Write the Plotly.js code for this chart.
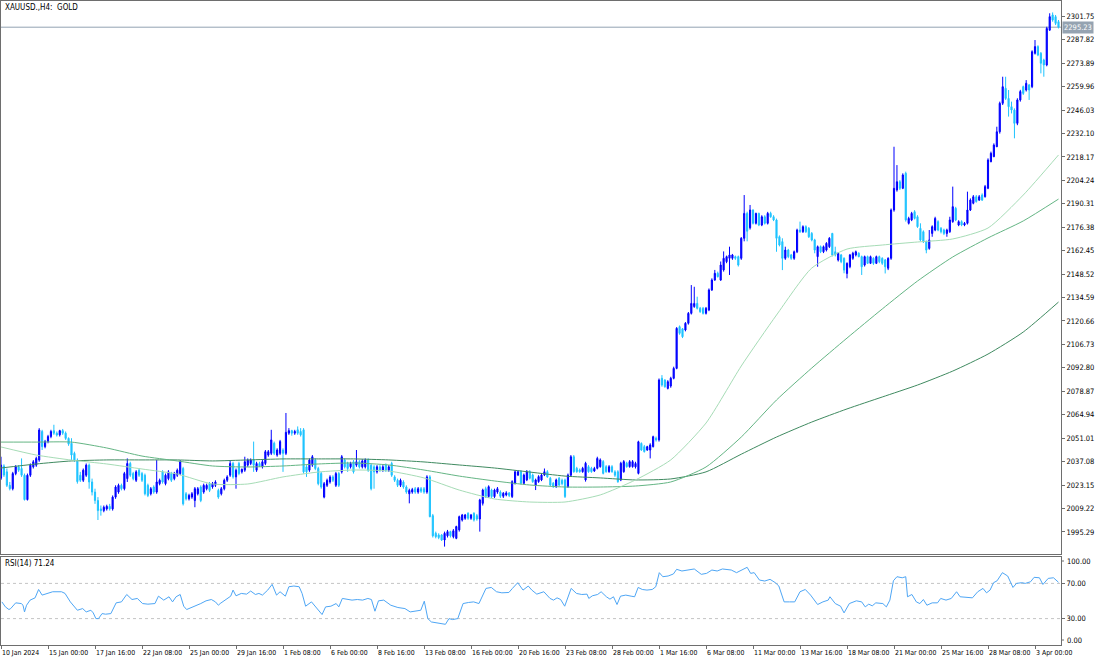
<!DOCTYPE html>
<html><head><meta charset="utf-8">
<script src="https://cdn.plot.ly/plotly-3.0.1.min.js"></script>
<style>html,body{margin:0;padding:0;background:#fff}#chart{width:1100px;height:660px}</style>
</head><body><div id="chart"></div>
<script>
const symbolTitle = "XAUUSD.,H4:\u00a0 GOLD";
const rsiTitle = "RSI(14) 71.24";
const lastPrice = 2295.23;
const timeLabels = ["10 Jan 2024","15 Jan 00:00","17 Jan 16:00","22 Jan 08:00","25 Jan 00:00","29 Jan 16:00","1 Feb 08:00","6 Feb 00:00","8 Feb 16:00","13 Feb 08:00","16 Feb 00:00","20 Feb 16:00","23 Feb 08:00","28 Feb 00:00","1 Mar 16:00","6 Mar 08:00","11 Mar 00:00","13 Mar 16:00","18 Mar 08:00","21 Mar 00:00","25 Mar 16:00","28 Mar 08:00","3 Apr 00:00"];
const timeTickBars = [0,16,32,48,64,80,96,112,128,144,160,176,192,208,224,240,256,272,288,304,320,336,352];
const priceTicks = [1995.29,2009.22,2023.15,2037.08,2051.01,2064.94,2078.87,2092.80,2106.73,2120.66,2134.59,2148.52,2162.45,2176.38,2190.31,2204.24,2218.17,2232.10,2246.03,2259.96,2273.89,2287.82,2301.75];
const rsiLevels = [30,70];
const rsiEdgeLabels = ["100.00","0.00"];

const open = [
2027.2,2034.5,2031,2023,2021,2030,2034,2033,2029,2014.5,
2029,2034,2035,2038,2055,2046,2049,2052,2055.5,2054,
2053,2055.5,2054,2050.9,2048,2042,2038,2029,2026,2029,
2035,2025,2019,2014,2009,2008,2009,2010.5,2009,2016,
2019,2023,2021,2027,2036,2030,2026,2032,2030,2029,
2023,2018,2022,2019,2024,2031,2024,2027,2030,2027,
2029,2030,2033,2018,2015,2016,2014,2018,2022,2019,
2021,2024,2022,2023,2020,2018,2021,2026,2029,2036,
2028,2036,2031,2032,2035,2036,2038,2032,2036,2034,
2036,2041,2042,2048,2041,2042,2044,2042,2054,2055.5,
2054,2056,2055,2056,2034,2032,2035,2038,2033,2030,
2016,2023,2025,2028,2023,2030,2031,2038,2036,2034,
2037,2035,2037,2034,2034,2038,2035,2034,2031,2034,
2032,2035,2032,2036,2028,2026,2023,2025,2022,2018,
2019,2021,2019,2021,2021,2019,2028,2005,1994.5,1993.5,
1993.5,1990.5,1993,1995.5,1992.5,1991.5,1996.5,2002.4,2003.4,2006.4,
2003.4,2006.4,2005,2003,2012.3,2021,2016.3,2020.2,2016.3,2019,
2019,2016.5,2017.3,2018.5,2016.3,2024.2,2029.1,2031.1,2024.2,2026.2,
2031.1,2029.1,2023.2,2025.2,2026.2,2029.1,2031.1,2027.2,2024.2,2022.2,
2027.2,2026,2026.2,2022.2,2029,2040,2033.1,2032.1,2031.1,2026.2,
2034.1,2033.1,2031.5,2033.1,2034.1,2037.1,2034.1,2031.1,2034.1,2031,
2031.1,2026.2,2031.1,2036.1,2034.1,2034.1,2034,2030.1,2047.9,2046,
2044,2044,2046,2051,2050,2086.6,2085.6,2080.6,2082,2086.6,
2092.5,2117.3,2116,2115.3,2119.3,2125.2,2129.2,2131.1,2128.2,2128.2,
2125.2,2127.2,2139.1,2145,2149,2145,2151,2155.9,2157.9,2157.9,
2158.9,2158.9,2157.9,2169.8,2184.6,2176,2186.6,2178.7,2184.6,2177.7,
2182.6,2178.7,2184.6,2182.6,2180.7,2170.7,2167.8,2157.9,2162.8,2159.9,
2157.9,2161.8,2174.7,2173.7,2176.7,2175.7,2172.7,2168.8,2158.9,2164.8,
2161.8,2162.8,2164.8,2172.7,2161.8,2156.9,2159.9,2157.9,2148.9,2152.9,
2157.9,2159.9,2160.9,2158.9,2153.9,2158.9,2154.9,2157.9,2154.9,2158.9,
2157.9,2156.9,2152,2157.9,2186.6,2198.5,2203.4,2199.5,2208.4,2178.7,
2180.7,2185.6,2182.6,2175.7,2173.7,2167.8,2163.8,2172.7,2174.7,2179.7,
2175.7,2174.7,2172.7,2173.7,2179.7,2187.6,2177.7,2179.7,2177.7,2178.7,
2186.6,2190.6,2194.5,2192.5,2195.5,2194.5,2199.5,2215.3,2218.3,2224.2,
2233.1,2250,2258.9,2252.9,2248,2246,2238.1,2252,2259.9,2257.9,
2260.9,2259.9,2279.7,2283.7,2279.7,2275.7,2272.8,2293.5,2302.5,2301.5,2298.5];
const high = [
2040,2035.5,2033,2025,2031,2035,2035,2039,2030,2030,
2036,2038,2040,2057,2056,2050,2053,2056,2059,2055,
2056,2056.5,2055,2051.5,2051,2043,2039,2031,2033,2036,
2036,2027,2021,2016,2011,2011,2011.5,2012,2017,2023,
2024,2024,2031,2039,2037,2031,2032,2033,2031,2030,
2024,2022,2023,2038,2027,2032,2030,2032,2031,2031,
2033,2038,2034,2019,2018,2019,2022,2022,2023,2024,
2024,2025,2025,2026,2021,2022,2027,2029,2038,2037,
2033,2037,2033,2040,2039,2039,2049,2037,2037,2038,
2044,2044,2056,2049,2045,2050,2045,2066,2057,2056,
2056,2058,2057,2057,2035,2039,2041,2039,2034,2031,
2025,2027,2029,2029,2031,2031,2041,2039,2037,2037,
2038,2044,2038,2038.5,2039,2039,2036,2035,2035,2035,
2035,2036,2035,2037,2029,2027,2027,2026,2023,2021,
2021.5,2022,2022,2022,2022,2029,2029,2006,1995.5,1994.5,
1994,1995.5,1996.5,1996,1997,1999,2005,2006,2006,2007,
2006,2007,2006,2015,2021,2022.2,2023,2021,2021,2022,
2020,2019,2019.5,2019,2026,2032,2032,2032,2030,2032.1,
2032,2030,2027,2029,2030,2033,2032,2028,2025,2027,
2028,2027,2027,2030,2041,2041,2034,2033,2034,2037,
2035,2034,2034,2040,2039,2038,2035,2035,2035,2032,
2032,2037,2038,2037,2038,2038,2037,2049.5,2048.5,2047,
2046.5,2048,2052.5,2052,2086.5,2088.5,2086,2085.5,2087.5,2093.5,
2117,2118,2116.5,2120,2126,2142,2141,2135.1,2129,2129,
2129,2140,2146,2151,2150,2156,2162,2159.5,2164.8,2160.5,
2159.5,2159.5,2170.5,2195.5,2185.6,2189.6,2187,2185,2185,2183.5,
2183.5,2185.5,2185.6,2183.5,2181.5,2171.5,2169.8,2164.8,2163.5,2160.5,
2162.5,2175.5,2179.7,2177.5,2177.5,2176.5,2173.5,2169.5,2165.5,2165.5,
2165.5,2167.5,2170.5,2173,2164.8,2161.5,2160.5,2158.5,2155.5,2160.5,
2161.8,2162.5,2161.5,2159.5,2159.5,2159.5,2159.5,2158.5,2159.5,2159.5,
2158.5,2157.5,2158.5,2187.5,2224.2,2213.3,2204.4,2208.4,2209.4,2182.6,
2185.5,2186.5,2183.5,2178.7,2174.5,2168.5,2174.7,2177.5,2182.6,2180.5,
2176.5,2175.5,2175.5,2182.6,2200.5,2188.5,2180.5,2180.5,2179.5,2197.5,
2193.5,2195.5,2195.5,2195.5,2196.5,2201.5,2217.3,2221.3,2226.2,2236.1,
2251,2265.8,2265.8,2257.9,2251,2247,2253,2258,2260.5,2263.8,
2261.5,2281.5,2287.6,2284.5,2280.5,2276.5,2295.5,2303.5,2304,2302.5,2299.5];
const low = [
2026.2,2028,2022,2020,2020,2029,2031,2028,2014,2014,
2028,2033,2034,2037,2044,2045,2048,2051,2053,2052,
2052,2053,2050,2046.5,2038,2037,2024,2025,2025,2028,
2021,2017,2012,2002.4,2005,2007,2008,2008,2008,2015,
2018,2020,2020,2025,2028,2026,2025,2028,2025,2017,
2016,2017,2018,2018,2023,2024,2023,2026,2025,2026,
2028,2029,2011,2014,2014,2015,2010,2017,2013,2018,
2020,2019,2021,2022,2015,2017,2020,2025,2028,2027,
2021,2029,2030,2031,2034,2035,2031,2031,2034,2033,
2035,2040,2041,2041,2040,2041,2031,2041,2053,2052.5,
2053,2053,2052,2030,2028,2031,2034,2032,2023,2021,
2015.3,2022,2024,2025,2022,2022,2030,2033,2031,2033,
2030,2034,2033,2033,2033,2031,2020,2021,2030,2031,
2031,2031,2031,2028,2025,2022,2022,2021,2018,2012.3,
2018,2018,2018,2018.5,2018,2018,2004,1992,1991.5,1991,
1990,1986.6,1992,1992,1991.5,1991,1995.5,2001.5,2002.5,2002.5,
2002.5,2001.5,2002,1995.5,2011,2015.5,2015.5,2015.5,2015.5,2018,
2015.5,2015.5,2016.5,2016,2015.5,2023.5,2028.5,2023.5,2023.5,2025.5,
2026.5,2024.5,2020.2,2024.5,2025.5,2028.5,2027.5,2022.5,2021.5,2021.5,
2022.5,2023,2015.5,2021.5,2028,2030.5,2030.5,2030.5,2030.5,2025.2,
2030.5,2030.5,2031,2032.5,2033.5,2029.5,2030.5,2030.5,2030.5,2028,
2024.5,2025.5,2030.5,2033.5,2033.5,2033.5,2033,2029.5,2043.5,2042.5,
2043.5,2039,2045.5,2049,2049,2081.6,2081,2080,2081,2086,
2092,2112.5,2110.5,2114.5,2118.5,2124.5,2128.5,2127.5,2125.5,2124.5,
2124.5,2126.5,2138.5,2144.5,2146.5,2144.5,2150,2155,2148,2157,
2157,2153,2157,2168,2168,2175,2178,2178,2177,2177,
2178,2178,2182,2180,2161.8,2165,2150.9,2157,2158,2157,
2157,2161,2173,2173,2173,2170,2168,2160.9,2152.9,2161,
2161,2162,2164,2159,2159,2156,2155,2149,2146,2152,
2157,2159,2158.5,2148,2153,2154.5,2154.5,2154,2154.5,2155,
2154,2148.9,2150.9,2157,2185.6,2197.5,2198.5,2199,2179.7,2178,
2180,2181,2176,2168,2167,2160.9,2163,2170.7,2174,2174,
2172.7,2171.7,2170.7,2173,2179,2180,2177,2177,2177,2178,
2186,2190,2191,2192,2192,2194,2199,2215,2218,2224,
2232,2249,2252,2242.1,2244,2229.2,2237,2251,2255,2257,
2252,2259,2279,2278,2267.8,2265.8,2272,2293,2298.5,2296.5,2294.5];
const close = [
2035.1,2029.1,2023,2021,2030,2034,2032,2029,2014.5,2029,
2035,2037,2039,2055.9,2046,2049,2052,2055,2054,2052.9,
2055.5,2054,2050.9,2047.5,2041,2038,2025.2,2026,2032,2035,
2025,2019,2014,2008,2008,2010,2010.5,2009,2016,2022,
2023,2021,2030,2036,2029,2027,2031,2029,2026,2018,
2017,2021,2019,2025,2026,2025,2029,2031,2026,2030,
2032,2037,2012,2015,2017,2018,2021,2021,2014,2023,
2023,2020,2024,2025,2016,2021,2026,2028,2036,2028,
2032,2030,2032.5,2037,2038,2038,2035,2036,2034.5,2037,
2043,2043,2050,2042,2044,2049,2042,2054.5,2055.5,2054,
2055,2054,2053,2031,2031,2038,2040,2033,2024,2022,
2024,2026,2028,2026,2030,2023,2040,2034,2033,2036,
2031,2037,2034,2037.5,2038,2032,2021,2031,2034,2032,
2034,2032,2034,2029,2026,2023,2026,2022,2019,2020,
2020.5,2019,2021,2019.5,2019,2028,2004.4,1993,1992.5,1992,
1990.5,1994.5,1995.5,1993,1996,1998.5,2004.4,2005.4,2005.4,2003.4,
2005.4,2002.4,2003,2014.3,2020.2,2016.3,2022.2,2016.3,2020.2,2021,
2016.5,2018.3,2018.5,2017,2025.2,2031,2031.1,2024.2,2029.1,2031,
2027.2,2025.2,2026.2,2028.2,2029.1,2031.1,2028,2023.2,2022.2,2026.2,
2023.2,2024,2016.3,2029.1,2040,2031.1,2031.1,2031.1,2033.1,2036.1,
2031.1,2031.1,2033,2039,2038.1,2030.1,2031.1,2034.1,2031.1,2029,
2025.2,2036.1,2037.1,2034.1,2037.1,2037.1,2036,2048.9,2044,2043,
2046,2047,2051.9,2050,2085.6,2082.6,2081.6,2084.6,2086.6,2092.5,
2116.3,2113.3,2111.3,2119.3,2125.2,2131.1,2131.1,2128.2,2126.2,2125.2,
2128.2,2139.1,2145,2149,2147,2153.9,2157.9,2158.9,2159.9,2159.9,
2157.9,2153.9,2169.8,2184.6,2174,2186.6,2178.7,2184.6,2177.7,2182.6,
2178.7,2184.6,2182.6,2180.7,2169.8,2165.8,2157.9,2162.8,2158.9,2157.9,
2161.8,2174.7,2173.7,2176.7,2173.7,2170.7,2168.8,2162.8,2164.8,2161.8,
2164.8,2166.8,2169.8,2159.9,2159.9,2160.9,2155.9,2150.9,2154.9,2159.9,
2160.9,2161.8,2158.9,2152.9,2158.9,2154.9,2158.9,2154.9,2158.9,2155.9,
2154.9,2152.9,2157.9,2186.6,2199.5,2203.4,2199.5,2207.4,2180.7,2181.6,
2184.6,2181.6,2176.7,2168.8,2167.8,2162.8,2168.8,2176.7,2181.6,2174.7,
2173.7,2172.7,2174.7,2180.7,2188.6,2180.7,2179.7,2177.7,2178.7,2186.6,
2192.5,2194.5,2191.6,2194.5,2192.5,2200.5,2216.3,2220.3,2225.2,2233.1,
2250,2259.9,2252.9,2248,2246,2238.1,2252,2257,2255.9,2261.9,
2257.9,2280.7,2283.7,2278.7,2273.8,2272.8,2294.5,2301.5,2299.5,2297.5,2295.23];

// moving averages read at every 12th bar
const maBars = [0,12,24,36,48,60,72,84,96,108,120,132,144,156,168,180,192,204,216,228,240,252,264,276,288,300,312,324,336,348,360];
const maFast = [2045.8,2041.0,2038.0,2035.7,2032.7,2029.7,2023.8,2023.8,2028.0,2030.9,2032.1,2031.5,2027.4,2020.2,2014.9,2013.1,2013.1,2017.3,2026.2,2038.1,2060.0,2093.9,2124.2,2152.1,2163.4,2165.8,2167.6,2169.4,2175.9,2195.5,2219.3];
const maMid = [2048.7,2048.7,2048.7,2045.2,2040.4,2037.5,2034.5,2033.9,2034.5,2035.7,2036.3,2035.1,2032.1,2028.5,2025.6,2023.2,2022.0,2022.0,2022.6,2025.0,2033.9,2051.7,2073.7,2092.7,2110.5,2127.8,2144.4,2158.7,2170.0,2180.1,2193.1];
const maSlow = [2033.3,2035.7,2037.5,2038.1,2038.1,2038.1,2037.5,2038.1,2038.7,2038.7,2038.7,2038.1,2036.9,2035.1,2033.3,2030.9,2028.5,2027.4,2026.2,2026.8,2031.0,2041.5,2051.7,2060.6,2068.4,2075.5,2082.6,2090.9,2101.0,2114.1,2131.9];

// RSI(14) readings
const rsiBars = [0.3,1.5,2.7,3.3,5.0,6.9,7.5,8.0,8.7,9.9,
11.6,12.8,14.0,15.8,17.6,20.6,21.8,23.6,26.0,27.8,
29.0,30.6,31.4,32.3,33.2,34.4,35.6,37.4,39.2,41.0,
42.8,44.6,46.4,48.2,50.0,52.4,53.6,55.4,57.2,58.4,
59.6,61.0,62.2,63.2,65.0,66.8,68.0,69.8,71.6,73.0,
74.0,74.6,76.4,78.2,79.0,80.0,81.8,83.6,85.0,86.6,
87.8,89.0,90.8,92.3,93.8,95.0,96.8,98.0,99.7,101.5,
102.5,103.7,105.7,107.5,109.3,110.5,112.3,114.1,115.0,116.2,
117.7,119.5,121.3,123.1,124.9,126.1,127.3,128.5,130.3,132.7,
135.1,137.5,139.3,141.1,142.9,144.1,145.3,146.5,148.9,151.3,
152.5,153.7,155.5,157.3,159.1,160.9,162.7,163.9,165.1,166.9,
168.7,170.5,172.9,174.1,175.9,177.7,179.5,180.7,182.4,184.8,
186.9,188.1,189.3,190.5,191.9,194.1,195.9,197.7,199.5,200.1,
201.3,203.1,204.3,206.1,207.3,208.5,209.7,210.9,212.7,214.5,
215.7,216.9,218.3,219.9,221.7,222.9,224.1,225.3,227.1,228.9,
230.0,231.8,233.6,236.0,238.4,240.2,242.0,243.8,245.6,247.4,
248.6,250.4,252.2,254.0,255.2,256.4,258.2,260.0,261.8,263.6,
264.8,266.6,268.4,270.2,272.0,273.8,275.6,278.0,279.8,281.6,
282.2,284.0,285.8,287.0,288.8,291.2,293.0,294.2,295.4,296.6,
297.8,300.2,301.4,302.6,303.8,305.0,306.8,308.0,308.6,310.1,
311.6,312.8,314.0,315.2,317.0,318.8,319.9,321.7,323.5,325.3,
326.5,328.9,330.7,332.5,334.3,335.5,336.7,337.9,339.1,340.9,
342.7,344.5,345.7,347.5,348.7,350.5,351.7,353.5,354.7,356.5,
358.3,360.0];
const rsiVals = [49,43.3,40.3,41.4,47.9,47.1,45.2,37.6,45.2,51,
53.6,63.1,56.7,58.6,60.5,60.5,58.6,49,39.5,41.4,
37.6,39.5,36.5,30,30,35.7,35,35.7,47.9,49,
57.4,51.7,52.9,47.1,46.4,47.1,55.5,51,54.8,49,
54.8,57.4,44.1,40.3,42.6,45.2,47.1,50.2,51.7,49,
45.2,47.1,51.7,55.5,62.4,55.9,58.6,57.8,61.3,57.4,
58.6,56.7,62.4,68.9,56.7,60.5,55.5,66.2,67,66.2,
58.6,44.1,49,41.4,34.6,43.3,44.1,47.1,43.3,52.9,
51.7,51,51.7,51,52.9,51.7,38.4,50.2,51,45.2,
42.6,41.4,37.6,38.4,39.5,49.8,30,26.2,25,23.5,
30,28.9,30,47.1,48.3,49,47.1,54.8,64.3,65.4,
60.5,59.3,59.7,64.3,70.8,62.4,67,62.4,57.8,60.5,
52.9,51,53.6,51.7,44.1,64.3,58.6,57.4,57.8,52.9,
55.9,57.4,60.5,54.8,52.1,54.8,46,55.5,56.7,55.5,
54.8,65.4,63.1,62.4,63.1,66.2,82.2,77.6,78.4,80.7,
86,84.1,85.2,86.4,80.3,81.4,85.2,84.1,86.4,85.2,
85.2,82.2,85.2,88.3,81.4,82.2,73.8,72.7,74.6,70.8,
67,49,49,49,60.5,63.1,56.7,46,49,51,
54.8,47.1,44.1,36.5,47.1,50.2,49,43.3,46.4,44.5,
47.9,47.1,43.3,51,73,77.6,76.4,77.6,54.8,57.4,
49,47.1,51.7,45.2,47.9,47.9,52.9,51,52.9,60.5,
54.8,54,53.6,60.5,64.3,59.3,62.4,70.8,73,82.2,
78.4,65.4,70,70.8,70,71.9,76.9,76.4,68.8,75.7,
76.4,71.24];

const bars = open.map((_, i) => i);
const W = 1100, H = 660;
const xDom = [1 / W, 1061 / W];
const yMain = [1 - 554 / H, 1 - 1 / H];
const yRsi = [1 - 645 / H, 1 - 557 / H];
const FONT = "Liberation Sans Narrow, DejaVu Sans Condensed, Arial Narrow, sans-serif";
const AXC = '#6e6e6e';
const AXFS = 7.5;

const traces = [
  {type:'candlestick', x:bars, open:open, high:high, low:low, close:close, xaxis:'x', yaxis:'y',
   increasing:{line:{color:'#0000ff', width:1}, fillcolor:'#0000ff'},
   decreasing:{line:{color:'#1ec3ff', width:1}, fillcolor:'#1ec3ff'},
   whiskerwidth:0, hoverinfo:'skip'},
  {type:'scatter', mode:'lines', x:maBars, y:maSlow, xaxis:'x', yaxis:'y', line:{color:'#3f8a60', width:1, shape:'spline', smoothing:0.6}, hoverinfo:'skip'},
  {type:'scatter', mode:'lines', x:maBars, y:maMid, xaxis:'x', yaxis:'y', line:{color:'#64b584', width:1, shape:'spline', smoothing:0.6}, hoverinfo:'skip'},
  {type:'scatter', mode:'lines', x:maBars, y:maFast, xaxis:'x', yaxis:'y', line:{color:'#a6dcb6', width:1, shape:'spline', smoothing:0.6}, hoverinfo:'skip'},
  {type:'scatter', mode:'lines', x:rsiBars, y:rsiVals, xaxis:'x2', yaxis:'y2', line:{color:'#4ea6f5', width:1}, hoverinfo:'skip'}
];

const shapes = [
  {type:'line', xref:'paper', yref:'y', x0:xDom[0], x1:xDom[1], y0:lastPrice, y1:lastPrice, line:{color:'#93a3b3', width:1}, layer:'below'}
];
rsiLevels.forEach(lv => shapes.push({type:'line', xref:'paper', yref:'y2', x0:xDom[0], x1:xDom[1], y0:lv, y1:lv, line:{color:'#c4c4c4', width:1, dash:'3px,3px'}, layer:'below'}));
// small tick marks beside the inset 100.00 / 0.00 labels of the RSI scale
[561, 640].forEach(py => shapes.push({type:'line', xref:'paper', yref:'paper', x0:1061 / W, x1:1064 / W, y0:1 - py / H, y1:1 - py / H, line:{color:AXC, width:1}}));

const annotations = [
  {xref:'paper', yref:'paper', x:3 / W, y:1 - 7 / H, xanchor:'left', yanchor:'middle', text:symbolTitle, showarrow:false, font:{family:FONT, size:8, color:'#000'}},
  {xref:'paper', yref:'paper', x:3 / W, y:1 - 563 / H, xanchor:'left', yanchor:'middle', text:rsiTitle, showarrow:false, font:{family:FONT, size:8, color:'#000'}},
  {xref:'paper', yref:'y', x:1062 / W, y:lastPrice, xanchor:'left', yanchor:'middle', text:lastPrice.toFixed(2), showarrow:false,
   bgcolor:'#95a3b1', borderpad:1, font:{family:FONT, size:AXFS, color:'#ffffff'}}
];
[[rsiEdgeLabels[0], 561], [rsiEdgeLabels[1], 640]].forEach(([t, py]) => annotations.push(
  {xref:'paper', yref:'paper', x:1065 / W, y:1 - py / H, xanchor:'left', yanchor:'middle', text:t, showarrow:false, font:{family:FONT, size:AXFS, color:'#000'}}));

const layout = {
  width:W, height:H, margin:{l:0, r:0, t:0, b:0},
  paper_bgcolor:'#ffffff', plot_bgcolor:'#ffffff', showlegend:false, hovermode:false,
  boxgap:0.45,
  font:{family:FONT, size:8, color:'#000'},
  xaxis:{domain:xDom, anchor:'y', range:[0, 360.85], showgrid:false, zeroline:false, showticklabels:false, ticks:'',
         showline:true, mirror:true, linecolor:AXC, linewidth:1, rangeslider:{visible:false}, fixedrange:true},
  yaxis:{domain:yMain, anchor:'x', range:[1982.2, 2310.8], side:'right', tickvals:priceTicks, ticktext:priceTicks.map(v => v.toFixed(2)),
         ticks:'outside', ticklen:3, tickcolor:AXC, showgrid:false, zeroline:false, showline:true, mirror:true, linecolor:AXC,
         tickfont:{family:FONT, size:AXFS, color:'#000'}, fixedrange:true},
  xaxis2:{domain:xDom, anchor:'y2', matches:'x', range:[0, 360.85], tickvals:timeTickBars, ticktext:timeLabels, ticks:'outside', ticklen:3,
          tickangle:0, tickcolor:AXC, ticklabelposition:'outside right', ticklabelstandoff:1, showgrid:false, zeroline:false, showline:true, mirror:true, linecolor:AXC,
          tickfont:{family:FONT, size:6.9, color:'#000'}, rangeslider:{visible:false}},
  yaxis2:{domain:yRsi, anchor:'x2', range:[0, 100], side:'right', tickvals:rsiLevels, ticktext:rsiLevels.map(v => v.toFixed(2)),
          ticks:'outside', ticklen:3, tickcolor:AXC, showgrid:false, zeroline:false, showline:true, mirror:true, linecolor:AXC,
          tickfont:{family:FONT, size:AXFS, color:'#000'}, fixedrange:true},
  shapes:shapes,
  annotations:annotations
};

Plotly.newPlot('chart', traces, layout, {staticPlot:true, displayModeBar:false});
</script>
</body></html>
